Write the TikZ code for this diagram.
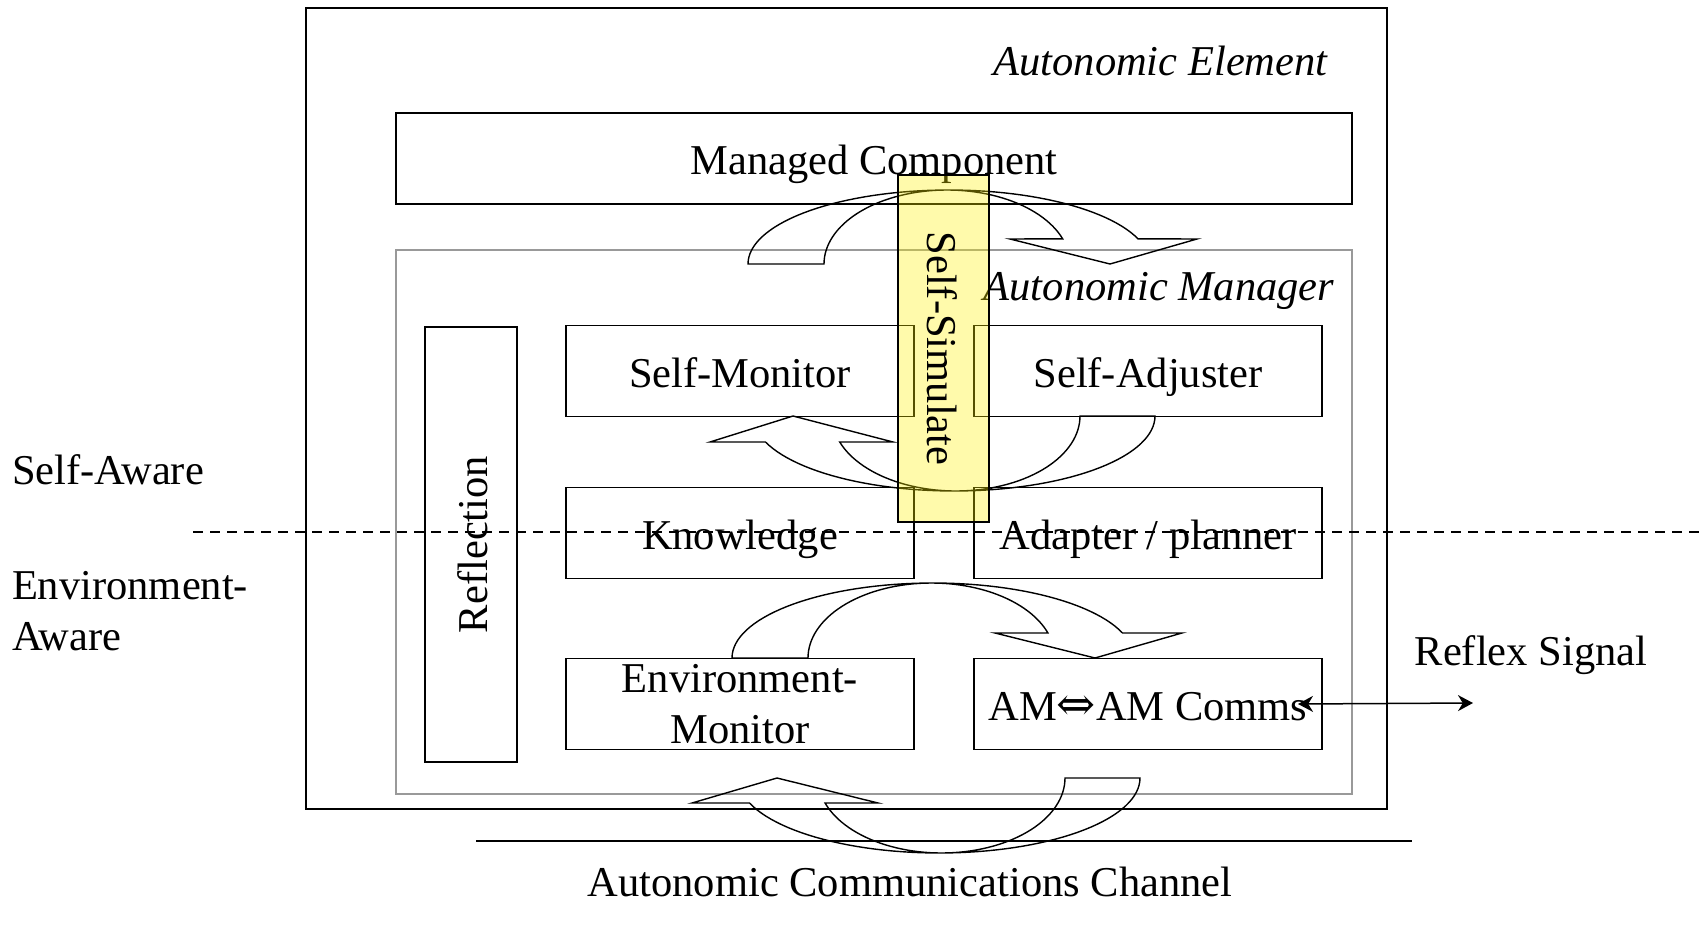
\documentclass[tikz,border=0pt]{standalone}
\usepackage{fontspec}
\setmainfont{Liberation Serif}
\newfontfamily\symfont[Scale=1.1]{DejaVu Serif}
\usetikzlibrary{arrows.meta}
\begin{document}
\begin{tikzpicture}[x=0.5pt,y=-0.5pt,
  every node/.style={font=\fontsize{21.25}{25.5}\selectfont, inner sep=0pt, outer sep=0pt},
  frame/.style={draw, line width=0.75pt},
  box/.style={draw, line width=0.75pt, minimum width=174pt, minimum height=45.5pt},
  lbl/.style={text height=16pt, text depth=0pt},
  graybox/.style={draw=black!40, line width=0.8pt},
  curvarrow/.style={draw, line width=0.7pt, line join=miter},
  simbox/.style={draw, line width=0.75pt, fill=yellow, fill opacity=0.33, text opacity=1},
  divider/.style={line width=0.7pt, dash pattern=on 5pt off 3.5pt},
  reflexarrow/.style={line width=0.75pt, {Stealth[length=7.5pt,width=8pt,inset=2.4pt]}-{Stealth[length=7.5pt,width=8pt,inset=2.4pt]}}
]
\fill[white] (0,0) rectangle (1703,931);
\useasboundingbox (0,0) rectangle (1703,931);

% Autonomic Element frame
\node[frame, minimum width=540.5pt, minimum height=400.5pt] (ae) at (846.5,408.5) {};
\node[anchor=base, font=\fontsize{21.25}{25.5}\selectfont\itshape] (aelbl) at (1160.5,76) {Autonomic Element};

% Managed component
\node[box, lbl, minimum width=478pt] (mc) at (874,158.5) {Managed Component};

% Autonomic manager (gray)
\node[graybox, minimum width=478pt, minimum height=272pt] (am) at (874,522) {};
\node[anchor=base, font=\fontsize{21.25}{25.5}\selectfont\itshape] (amlbl) at (1159,300) {Autonomic Manager};

% Reflection
\node[box, lbl, minimum width=217.5pt, minimum height=46pt, rotate=90] (refl) at (471,544.5) {Reflection};

% Inner boxes
\node[box, lbl] (smon) at (740,371) {Self-Monitor};
\node[box, lbl] (sadj) at (1148,371) {Self-Adjuster};
\node[box, lbl] (know) at (740,533) {Knowledge};
\node[box, lbl] (adpl) at (1148,533) {Adapter / planner};
\node[box, align=center] (envm) at (740,704) {Environment-\\Monitor};
\node[box, lbl] (amc) at (1148,704) {AM{\symfont ⇔}AM Comms};

% Curved arrow: Managed Component -> Autonomic Manager (down, to the right)
\path[curvarrow] plot[domain=180:340.1, samples=60] ({949+201*cos(\x)},{264+74*sin(\x)})
  -- (1197,239) -- (1110,264) -- (1010,239)
  -- plot[domain=340.1:180, samples=60] ({947+123*cos(\x)},{264+74*sin(\x)}) -- cycle;

% Curved arrow: Self-Adjuster -> Self-Monitor (up, to the left)
\path[curvarrow] plot[domain=0:159.7, samples=60] ({954+201*cos(\x)},{416+75*sin(\x)})
  -- (710,442) -- (793,416) -- (893,442)
  -- plot[domain=159.7:0, samples=60] ({956+124*cos(\x)},{416+75*sin(\x)}) -- cycle;

% Curved arrow: Environment-Monitor -> AM Comms (down, to the right)
\path[curvarrow] plot[domain=180:340.5, samples=60] ({933+201*cos(\x)},{658+75*sin(\x)})
  -- (1182,633) -- (1095,658) -- (995,633)
  -- plot[domain=340.5:180, samples=60] ({931.5+123.5*cos(\x)},{658+75*sin(\x)}) -- cycle;

% Curved arrow: bottom, channel (up, to the left)
\path[curvarrow] plot[domain=0:160.5, samples=60] ({939+201*cos(\x)},{778+75*sin(\x)})
  -- (692,803) -- (777,778) -- (878,803)
  -- plot[domain=160.5:0, samples=60] ({941.5+123.5*cos(\x)},{778+75*sin(\x)}) -- cycle;

% Self-Simulate (translucent yellow)
\node[simbox, lbl, minimum width=173.5pt, minimum height=45.5pt, rotate=-90] (ssim) at (943.5,348.5) {Self-Simulate};

% Dashed divider
\coordinate (dl) at (193,532);
\coordinate (dr) at (1703,532);
\draw[divider] (dl) -- (dr);

% Side labels
\node[anchor=base west] (saw) at (12,484) {Self-Aware};
\node[anchor=base west] (eaw1) at (12,599) {Environment-};
\node[anchor=base west] (eaw2) at (12,650) {Aware};

% Reflex signal
\node[anchor=base] (rsig) at (1531,665) {Reflex Signal};
\coordinate (rend) at (1473,703);
\draw[reflexarrow] ([xshift=-12pt]amc.east) -- (rend);

% Communications channel
\coordinate (chl) at (476,841);
\coordinate (chr) at (1412,841);
\draw[line width=0.8pt] (chl) -- (chr);
\node[anchor=base] (chlbl) at (910,896) {Autonomic Communications Channel};
\end{tikzpicture}
\end{document}
